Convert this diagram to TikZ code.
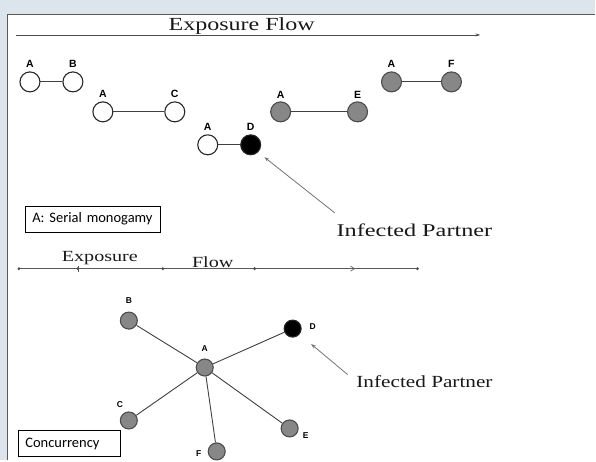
\documentclass[tikz,border=0pt]{standalone}
\usepackage{xcolor}
\usepackage{fontspec}
\setmainfont{Liberation Serif}
\setsansfont{Carlito}
\newfontfamily\lblfont{Liberation Sans}
\usetikzlibrary{arrows.meta}
\definecolor{panelbg}{HTML}{DDE5EC}
\definecolor{nodegray}{HTML}{878787}

\newcommand{\wide}[2][1.3]{\scalebox{#1}[1]{#2}}

\begin{document}
\begin{tikzpicture}[x=1pt, y=-1pt,
  person/.style={circle, draw=black!85, line width=1.1pt, minimum size=20pt, inner sep=0pt, fill=white},
  exposed/.style={person, fill=nodegray, draw=black!70},
  infected/.style={person, fill=black},
  small/.style={minimum size=17pt},
  lbl/.style={font=\lblfont\bfseries\fontsize{10.5}{10.5}\selectfont, inner sep=0pt},
  slbl/.style={font=\lblfont\bfseries\fontsize{8.5}{8.5}\selectfont, inner sep=0pt},
  tie/.style={draw=black!75, line width=1pt},
  pointer/.style={draw=black!55, line width=0.8pt, -{Stealth[length=5pt,width=3.5pt]}},
  serif/.style={inner sep=0pt, text=black!90},
  tagbox/.style={draw, line width=0.8pt, font=\sffamily\fontsize{14.5}{14.5}\selectfont, inner xsep=7pt, inner ysep=0pt, minimum height=26pt, anchor=north west, align=left}]
  % background and panel frame
  \fill[panelbg] (0,0) rectangle (596,461);
  \fill[white] (7,14) rectangle (596,461);
  \draw[black!65, line width=1.5pt] (7.7,461) -- (7.7,14.7) -- (596,14.7);
  \useasboundingbox (0,0) rectangle (596,461);

  % A: serial monogamy
  \node[serif] (flowA) at (242,26) {\wide{\fontsize{18.5}{18.5}\selectfont Exposure Flow}};
  \draw[black!70, line width=0.8pt, -{Stealth[length=5pt,width=3pt]}] (16,35) -- (481,35);
  % partners one after the other
  \node[person, label={[lbl, label distance=4pt]above:A}] (a1) at (30,82) {};
  \node[person, label={[lbl, label distance=4pt]above:B}] (b) at (73,82) {};
  \node[person, label={[lbl, label distance=4pt]above:A}] (a2) at (103,112) {};
  \node[person, label={[lbl, label distance=4pt]above:C}] (c) at (175,112) {};
  \node[person, label={[lbl, label distance=4pt]above:A}] (a3) at (208,145) {};
  \node[infected, label={[lbl, label distance=4pt]above:D}] (d) at (251,145) {};
  \node[exposed, label={[lbl, label distance=3pt]above:A}] (a4) at (281,112) {};
  \node[exposed, label={[lbl, label distance=3pt]above:E}] (e) at (358,112) {};
  \node[exposed, label={[lbl, label distance=4pt]above:A}] (a5) at (392,82) {};
  \node[exposed, label={[lbl, label distance=4pt]above:F}] (f) at (452,82) {};
  \draw[tie] (a1) -- (b);
  \draw[tie] (a2) -- (c);
  \draw[tie] (a3) -- (d);
  \draw[tie] (a4) -- (e);
  \draw[tie] (a5) -- (f);
  % infected partner
  \node[serif] (infA) at (415,231) {\wide[1.35]{\fontsize{18}{18}\selectfont Infected Partner}};
  \coordinate (tailA) at (335,213);
  \draw[pointer, shorten >=8pt] (tailA) -- (d.south east);
  \node[tagbox, text width=121pt] (serial) at (25,206) {A: Serial monogamy};

  % B: concurrency
  \node[serif] (expB) at (100,258) {\wide{\fontsize{15.5}{15.5}\selectfont Exposure}};
  \node[serif] (flowB) at (213,263) {\wide{\fontsize{15.5}{15.5}\selectfont Flow}};
  \draw[black!65, line width=0.8pt] (19,269) -- (418,269);
  \foreach \x in {19,78,163,255,418}
    \fill[black!70] (\x,269) circle (1.6pt);
  \draw[black!65, line width=0.8pt] (78,266) -- (78,272);
  \draw[black!60, line width=0.7pt] (351,266.5) -- (355,269) -- (351,271.5);
  % partners at the same time
  \node[exposed, small] (hub) at (205,368) {};
  \node[slbl] (hubl) at (205,349) {A};
  \node[exposed, small] (pb) at (129,321) {};
  \node[slbl] (pbl) at (129,301) {B};
  \node[exposed, small] (pc) at (129,421) {};
  \node[slbl] (pcl) at (120,405) {C};
  \node[infected, small] (pd) at (293,329) {};
  \node[slbl] (pdl) at (313,327) {D};
  \node[exposed, small] (pe) at (290,429) {};
  \node[slbl] (pel) at (306,436) {E};
  \node[exposed, small] (pf) at (217,452) {};
  \node[slbl] (pfl) at (199,454) {F};
  \foreach \p in {pb,pc,pd,pe,pf}
    \draw[tie, line width=0.9pt] (hub) -- (\p);
  % infected partner
  \node[serif] (infB) at (425,382) {\wide[1.25]{\fontsize{17}{17}\selectfont Infected Partner}};
  \coordinate (tailB) at (348,375);
  \draw[pointer, shorten >=15pt] (tailB) -- (pd);
  \node[tagbox, text width=88pt] (conc) at (18,431) {Concurrency};
\end{tikzpicture}
\end{document}
